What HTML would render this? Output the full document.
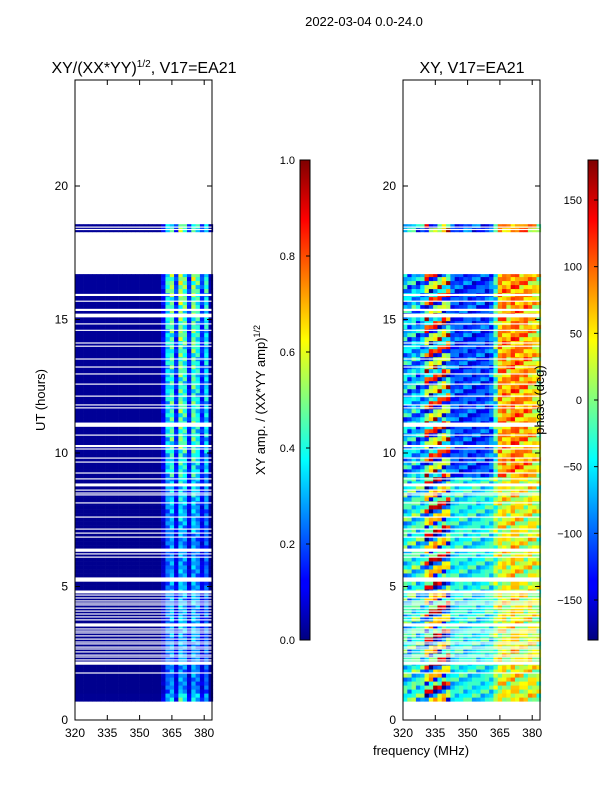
<!DOCTYPE html>
<html><head><meta charset="utf-8"><style>
body{margin:0;background:#fff;width:600px;height:800px;overflow:hidden}
svg text{font-family:"Liberation Sans",sans-serif;fill:#000}
</style></head><body>
<svg id="fig" width="600" height="800" viewBox="0 0 600 800" xmlns="http://www.w3.org/2000/svg">
<defs>
<linearGradient id="jetV" x1="0" y1="1" x2="0" y2="0">
<stop offset="0" stop-color="#00007f"/><stop offset="0.11" stop-color="#0000ff"/><stop offset="0.125" stop-color="#0000ff"/>
<stop offset="0.375" stop-color="#00ffff"/><stop offset="0.5" stop-color="#80ff80"/><stop offset="0.625" stop-color="#ffff00"/>
<stop offset="0.875" stop-color="#ff0000"/><stop offset="1" stop-color="#7f0000"/>
</linearGradient>
</defs>
<text x="364" y="26" font-size="13" text-anchor="middle">2022-03-04 0.0-24.0</text>
<text x="144" y="73" font-size="16" text-anchor="middle">XY/(XX*YY)<tspan font-size="10" dy="-6">1/2</tspan><tspan dy="6">, V17=EA21</tspan></text>
<text x="472" y="73" font-size="16" text-anchor="middle">XY, V17=EA21</text>
<g id="ampPlot"></g>
<g id="phPlot"></g>
<g id="axes"></g>
<text transform="translate(45,400) rotate(-90)" font-size="13" text-anchor="middle">UT (hours)</text>
<text x="421" y="755" font-size="13" text-anchor="middle">frequency (MHz)</text>
<text transform="translate(265,400) rotate(-90)" font-size="13" text-anchor="middle">XY amp. / (XX*YY amp)<tspan font-size="9" dy="-5">1/2</tspan></text>
<text transform="translate(544,400) rotate(-90)" font-size="13" text-anchor="middle">phase (deg)</text>
<rect x="300" y="160" width="10" height="480" fill="url(#jetV)" stroke="#000" stroke-width="1"/>
<rect x="588" y="160" width="10" height="480" fill="url(#jetV)" stroke="#000" stroke-width="1"/>
<g id="cbars"></g>
</svg>
<script>
const freqEdges0 = 320, chanWidth = 2;
const ampProfile = [0.02,0.02,0.02,0.02,0.02,0.02,0.02,0.02,0.02,0.02,0.02,0.02,0.02,0.02,0.02,0.02,0.02,0.02,0.02,0.02,0.1,0.3,0.38,0.14,0.42,0.36,0.13,0.4,0.33,0.14,0.3,0.04];
const ampHourScale = [1,0.7,0.75,0.8,0.8,0.75,0.7,0.8,0.9,1.05,1.15,1.15,1.1,1.15,1.2,1.25,1.35,1.3,1.2];
const ampJitter = [1,0.8,1.15,0.9,1.05,0.7,1.2,0.95,1.1];
const phaseUpper = [-70,-80,-60,-90,-70,-60,-40,-50,-60,-30,-70,-110,-115,-120,-110,-115,-120,-110,-115,-120,-100,-30,70,80,60,90,85,70,80,60,50,30];
const phaseLower = [-40,-50,-30,-40,-40,-20,-10,0,-20,-10,-30,-50,-45,-40,-50,-45,-40,-50,-45,-40,-40,0,30,40,20,50,40,30,20,40,30,10];
const phaseNoiseAmp = [60,60,60,60,60,160,170,170,170,160,150,40,40,40,40,40,40,40,40,40,40,50,50,50,50,50,50,50,50,50,50,50];
const phaseJitter = [0,0.6,-0.4,1,-0.8,0.3,0.9,-0.2,0.5,-1,0.1,0.4,-0.6];
const dataSegments = [[0.7,16.7],[18.28,18.57]];
const gaps = [[18.35,18.39],[18.44,18.48],[15.88,15.96],[15.65,15.72],[15.32,15.4],[15.08,15.22],[14.8,14.87],[14.56,14.63],[14.09,14.15],[13.97,14.03],[13.49,13.55],[13.19,13.25],[12.93,12.99],[12.55,12.61],[12.1,12.16],[11.77,11.83],[11.66,11.72],[10.98,11.14],[10.64,10.7],[10.22,10.3],[10.12,10.18],[9.78,9.84],[9.63,9.69],[9.22,9.28],[9.0,9.06],[8.75,8.86],[8.58,8.64],[8.47,8.53],[8.4,8.46],[8.1,8.16],[7.57,7.63],[7.12,7.18],[6.97,7.03],[6.82,6.88],[6.3,6.42],[6.19,6.25],[6.07,6.13],[5.18,5.34],[4.74,4.85],[4.65,4.71],[4.54,4.6],[4.43,4.49],[4.35,4.41],[4.28,4.34],[4.16,4.22],[4.05,4.11],[3.94,4.0],[3.83,3.89],[3.72,3.78],[3.5,3.62],[3.38,3.44],[3.3,3.36],[3.23,3.29],[3.12,3.18],[3.0,3.06],[2.89,2.95],[2.82,2.88],[2.7,2.76],[2.63,2.69],[2.52,2.58],[2.4,2.46],[2.33,2.39],[2.22,2.28],[2.07,2.19],[1.73,1.79]];
const yTicks = [0,5,10,15,20];
const xTicks = [320,335,350,365,380];
const ampCbTicks = ["0.0","0.2","0.4","0.6","0.8","1.0"];
const phCbTicks = [-150,-100,-50,0,50,100,150];

const NS="http://www.w3.org/2000/svg";
const Y0=720, PXH=26.7, XPM=32.3/15;
const yOf = u => Y0 - u*PXH;
const panels = [{x0:75,g:'ampPlot'},{x0:403,g:'phPlot'}];
const xOf = (x0,f) => x0 + (f-320)*XPM;
function jet(v){v=Math.max(0,Math.min(1,v));const c=t=>Math.round(255*Math.max(0,Math.min(1,1.5-Math.abs(4*v-t))));return `rgb(${c(3)},${c(2)},${c(1)})`;}
function mk(tag,attrs,parent){const e=document.createElementNS(NS,tag);for(const k in attrs)e.setAttribute(k,attrs[k]);parent.appendChild(e);return e;}
const binH=0.15;
const ampG=document.getElementById('ampPlot'), phG=document.getElementById('phPlot');
dataSegments.forEach(seg=>{
  let r=0;
  for(let u=seg[0];u<seg[1]-1e-6;u+=binH,r++){
    const u2=Math.min(u+binH,seg[1]); const hr=Math.min(ampHourScale.length-1,Math.floor(u));
    for(let c=0;c<ampProfile.length;c++){
      const f=freqEdges0+c*chanWidth;
      const a=ampProfile[c]*ampHourScale[hr]*(c>19?ampJitter[(r+c)%ampJitter.length]:1);
      const ra=mk('rect',{x:xOf(75,f).toFixed(2),y:yOf(u2).toFixed(2),width:(chanWidth*XPM+0.3).toFixed(2),height:((u2-u)*PXH+0.3).toFixed(2),fill:jet(a)},ampG);
      
      
      const base=u>=9?phaseUpper[c]:phaseLower[c];
      let p=base+phaseNoiseAmp[c]*phaseJitter[(r*7+c*3)%phaseJitter.length];
      p=((p+180)%360+360)%360-180;
      const rp=mk('rect',{x:xOf(403,f).toFixed(2),y:yOf(u2).toFixed(2),width:(chanWidth*XPM+0.3).toFixed(2),height:((u2-u)*PXH+0.3).toFixed(2),fill:jet((p+180)/360)},phG);
      
      
    }
  }
});
panels.forEach(P=>{
  const g=document.getElementById(P.g);
  gaps.forEach(gp=>{
    let a=gp[0], b=gp[1];
    if(b-a<0.08){const m=(a+b)/2; a=m-0.022; b=m+0.022;}
    const w=mk('rect',{x:P.x0,y:yOf(b).toFixed(2),width:137,height:((b-a)*PXH).toFixed(2),fill:'#fff'},g);
    
    
  });
});
const ax=document.getElementById('axes');
panels.forEach(P=>{
  const fr=mk('rect',{x:P.x0,y:80,width:137,height:640,fill:'none',stroke:'#000','stroke-width':1},ax);
  
  
  yTicks.forEach(t=>{
    const y=yOf(t);
    mk('line',{x1:P.x0,x2:P.x0+5,y1:y,y2:y,stroke:'#000'},ax);
    mk('line',{x1:P.x0+137,x2:P.x0+132,y1:y,y2:y,stroke:'#000'},ax);
    const tl=mk('text',{x:P.x0-7,y:y+4,'font-size':12,'text-anchor':'end'},ax);
    tl.textContent=t;
    
    
  });
  xTicks.forEach(t=>{
    const x=xOf(P.x0,t);
    mk('line',{x1:x,x2:x,y1:720,y2:715,stroke:'#000'},ax);
    mk('line',{x1:x,x2:x,y1:80,y2:85,stroke:'#000'},ax);
    const tl=mk('text',{x:x,y:737,'font-size':12,'text-anchor':'middle'},ax);
    tl.textContent=t;
    
    
  });
});
const cb=document.getElementById('cbars');
ampCbTicks.forEach((t,i)=>{
  const y=640-i*96;
  mk('line',{x1:306,x2:310,y1:y,y2:y,stroke:'#000'},cb);
  const tl=mk('text',{x:295,y:y+4,'font-size':11,'text-anchor':'end'},cb);
  tl.textContent=t;
  
  
});
phCbTicks.forEach(t=>{
  const y=400-t*480/360;
  mk('line',{x1:594,x2:598,y1:y,y2:y,stroke:'#000'},cb);
  const tl=mk('text',{x:582,y:y+4,'font-size':11,'text-anchor':'end'},cb);
  tl.textContent=(t<0?'\u2212'+(-t):t);
  
  
});
</script>
</body></html>
